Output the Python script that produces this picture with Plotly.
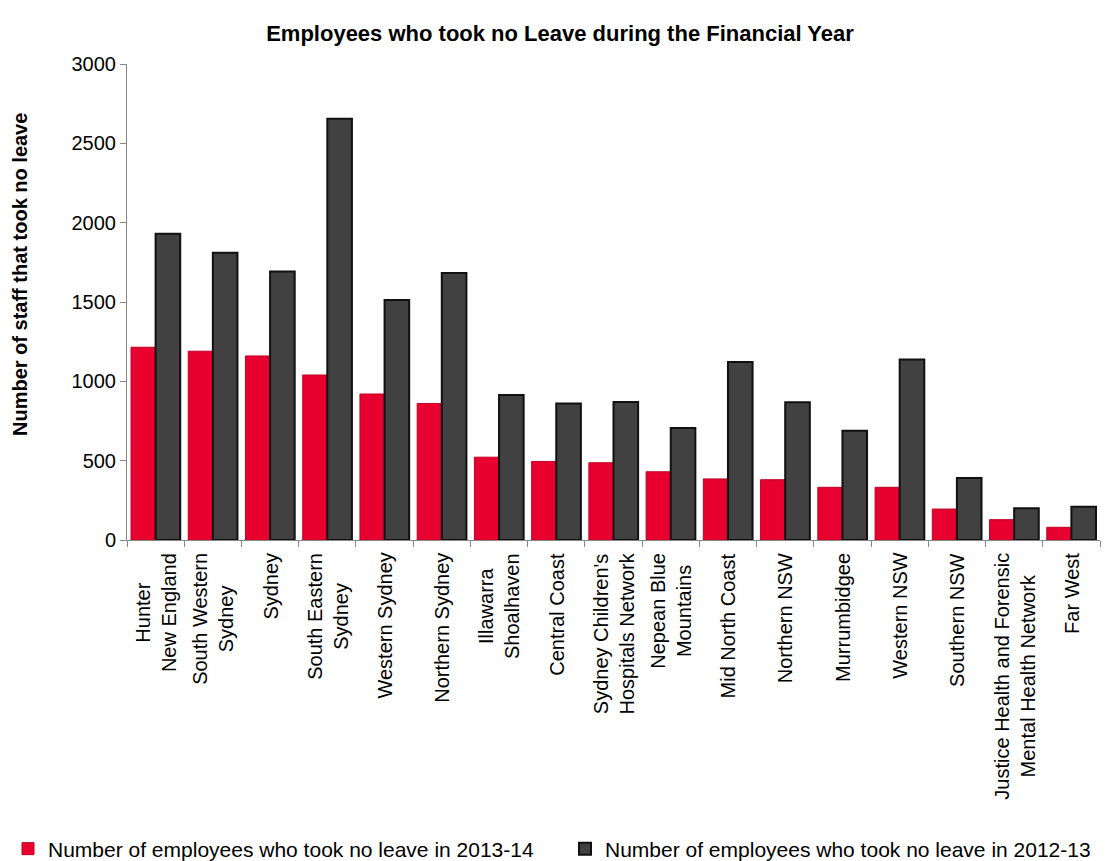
import plotly.graph_objects as go

categories = [
    "Hunter<br>New England", "South Western<br>Sydney", "Sydney", "South Eastern<br>Sydney",
    "Western Sydney", "Northern Sydney", "Illawarra<br>Shoalhaven", "Central Coast",
    "Sydney Children's<br>Hospitals Network", "Nepean Blue<br>Mountains", "Mid North Coast",
    "Northern NSW", "Murrumbidgee", "Western NSW", "Southern NSW",
    "Justice Health and Forensic<br>Mental Health Network", "Far West",
]
no_leave_2013_14 = [1215, 1190, 1160, 1040, 920, 860, 522, 495, 487, 430, 385, 380, 332, 332, 195, 128, 80]
no_leave_2012_13 = [1930, 1810, 1693, 2655, 1512, 1682, 914, 860, 870, 706, 1122, 868, 688, 1138, 390, 200, 210]
y_ticks = [0, 500, 1000, 1500, 2000, 2500, 3000]

W, H = 1115, 861
font = "Liberation Sans, Arial, sans-serif"

fig = go.Figure()
fig.add_trace(go.Bar(
    x=categories, y=no_leave_2013_14,
    name="Number of employees who took no leave in 2013-14",
    marker=dict(color="#E8002F", line=dict(color="#C00022", width=1)),
    legend="legend",
))
fig.add_trace(go.Bar(
    x=categories, y=no_leave_2012_13,
    name="Number of employees who took no leave in 2012-13",
    marker=dict(color="#414141", line=dict(color="#111111", width=2)),
    legend="legend2",
))

legend_common = dict(
    orientation="h", xref="container", yref="container",
    xanchor="left", y=1 - 849 / H, yanchor="middle",
    font=dict(family=font, size=21, color="black"),
    itemwidth=30, bgcolor="rgba(0,0,0,0)",
)

fig.update_layout(
    width=W, height=H,
    margin=dict(l=127, r=15, t=64, b=321),
    paper_bgcolor="white", plot_bgcolor="white",
    barmode="group", bargap=0.14, bargroupgap=0,
    font=dict(family=font, color="black", size=20),
    title=dict(
        text="<b>Employees who took no Leave during the Financial Year</b>",
        font=dict(family=font, size=22, color="black"),
        x=560 / W, xanchor="center", xref="container",
        y=1 - 33 / H, yanchor="middle", yref="container",
    ),
    xaxis=dict(
        type="category", showline=True, linecolor="#888888", linewidth=1,
        ticks="outside", tickson="boundaries", ticklen=6, tickcolor="#888888",
        showticklabels=False, showgrid=False,
    ),
    yaxis=dict(
        range=[0, 3000], tickvals=y_ticks, showline=True, linecolor="#888888", linewidth=1,
        ticks="outside", ticklen=6, tickcolor="#888888", showgrid=False, zeroline=False,
        tickfont=dict(family=font, size=20, color="black"),
    ),
    legend=dict(x=8 / W, **legend_common),
    legend2=dict(x=565 / W, **legend_common),
    showlegend=True,
)

for cat in categories:
    fig.add_annotation(
        text=cat, x=cat, xref="x", y=0, yref="paper",
        textangle=-90, xanchor="center", yanchor="top", yshift=-11,
        align="center", showarrow=False,
        font=dict(family=font, size=20, color="black"),
    )

fig.add_annotation(
    text="<b>Number of staff that took no leave</b>", textangle=-90,
    xref="paper", yref="paper", x=-(127 - 20) / (W - 127 - 15), y=(540 - 275) / (540 - 64),
    xanchor="center", yanchor="middle", showarrow=False,
    font=dict(family=font, size=20, color="black"),
)

fig.write_html("out.html")
